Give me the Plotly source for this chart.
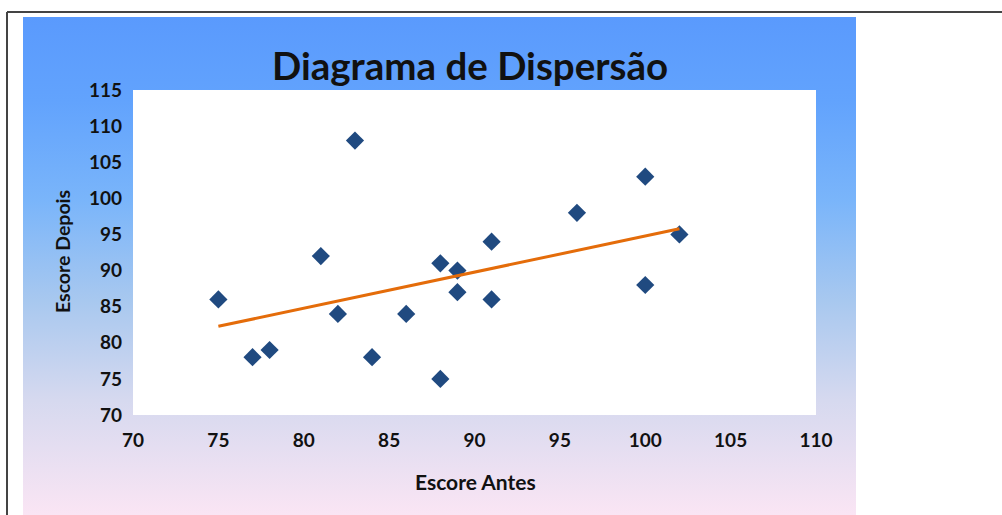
import base64
import numpy as np
import plotly.graph_objects as go

# ---- data ----
escore_antes = [75, 77, 78, 81, 83, 82, 84, 86, 88, 88, 89, 89, 91, 91, 96, 100, 100, 102]
escore_depois = [86, 78, 79, 92, 108, 84, 78, 84, 91, 75, 90, 87, 94, 86, 98, 103, 88, 95]
x_ticks = [70, 75, 80, 85, 90, 95, 100, 105, 110]
y_ticks = [70, 75, 80, 85, 90, 95, 100, 105, 110, 115]
title_text = "Diagrama de Dispersão"
x_title = "Escore Antes"
y_title = "Escore Depois"

# ---- layout geometry (pixels) ----
W, H = 1002, 515
L, R, T, B = 133, 1002 - 816, 90, 515 - 415
PW, PH = W - L - R, H - T - B


def px(x):
    return (x - L) / PW


def py(y):
    return (H - B - y) / PH


# trend line (least squares) from the data
coef = np.polyfit(escore_antes, escore_depois, 1)
tx = [min(escore_antes), max(escore_antes)]
ty = [coef[0] * v + coef[1] for v in tx]

FONT = "Lato, 'Open Sans', sans-serif"

fig = go.Figure()
fig.add_trace(go.Scatter(
    x=escore_antes, y=escore_depois, mode="markers",
    marker=dict(symbol="diamond", size=14, color="#204a80",
                line=dict(width=0)),
    showlegend=False, cliponaxis=False))
fig.add_trace(go.Scatter(
    x=tx, y=ty, mode="lines",
    line=dict(color="#e46c0a", width=3),
    showlegend=False))

# gradient panel as svg image
svg = """<svg xmlns='http://www.w3.org/2000/svg' width='100' height='100' preserveAspectRatio='none'>
<defs><linearGradient id='g' x1='0' y1='0' x2='0' y2='1'>
<stop offset='0' stop-color='#5a9afd'/>
<stop offset='0.17' stop-color='#62a3fd'/>
<stop offset='0.37' stop-color='#7ab5fa'/>
<stop offset='0.57' stop-color='#a8c8ef'/>
<stop offset='0.77' stop-color='#d6d9ef'/>
<stop offset='1' stop-color='#fae5f4'/>
</linearGradient></defs>
<rect x='0' y='0' width='100' height='100' fill='url(#g)'/></svg>"""
src = "data:image/svg+xml;base64," + base64.b64encode(svg.encode()).decode()

panel_l, panel_r, panel_t, panel_b = 23, 856, 17, 515
fig.add_layout_image(dict(
    source=src, xref="paper", yref="paper",
    x=px(panel_l), y=py(panel_t),
    sizex=px(panel_r) - px(panel_l), sizey=py(panel_t) - py(panel_b),
    xanchor="left", yanchor="top", sizing="stretch", layer="below"))

shapes = [
    # white plot area
    dict(type="rect", xref="paper", yref="paper", x0=0, x1=1, y0=0, y1=1,
         fillcolor="white", line=dict(width=0), layer="below"),
    # frame lines
    dict(type="line", xref="paper", yref="paper", x0=px(7), x1=px(1002),
         y0=py(12), y1=py(12), line=dict(color="#444444", width=2), layer="above"),
    dict(type="line", xref="paper", yref="paper", x0=px(7), x1=px(7),
         y0=py(12), y1=py(515), line=dict(color="#444444", width=2), layer="above"),
]

annotations = [
    dict(text="<b>" + title_text + "</b>", xref="paper", yref="paper",
         x=px(470), y=py(65), showarrow=False, xanchor="center", yanchor="middle",
         font=dict(family=FONT, size=38.5, color="#111111")),
    dict(text="<b>" + x_title + "</b>", xref="paper", yref="paper",
         x=px(475), y=py(481), showarrow=False, xanchor="center", yanchor="middle",
         font=dict(family=FONT, size=21, color="#111111")),
    dict(text="<b>" + y_title + "</b>", xref="paper", yref="paper",
         x=px(62), y=py(252), showarrow=False, xanchor="center", yanchor="middle",
         textangle=-90, font=dict(family=FONT, size=19.5, color="#111111")),
]

fig.update_layout(
    width=W, height=H,
    margin=dict(l=L, r=R, t=T, b=B, pad=0),
    paper_bgcolor="white", plot_bgcolor="rgba(0,0,0,0)",
    shapes=shapes, annotations=annotations,
    hovermode=False,
    xaxis=dict(range=[70, 110], tickvals=x_ticks, ticktext=[str(v) for v in x_ticks],
               showgrid=False, zeroline=False, showline=False, ticks="",
               ticklabelstandoff=12, fixedrange=True,
               tickfont=dict(family=FONT, size=19, color="#111111", weight="bold")),
    yaxis=dict(range=[70, 115], tickvals=y_ticks, ticktext=[str(v) for v in y_ticks],
               showgrid=False, zeroline=False, showline=False, ticks="",
               ticklabelstandoff=10, fixedrange=True,
               tickfont=dict(family=FONT, size=19, color="#111111", weight="bold")),
)

fig.write_html("out.html",
               config={"displayModeBar": False},
               post_script="document.body.style.margin='0px';document.body.style.overflow='hidden';")
